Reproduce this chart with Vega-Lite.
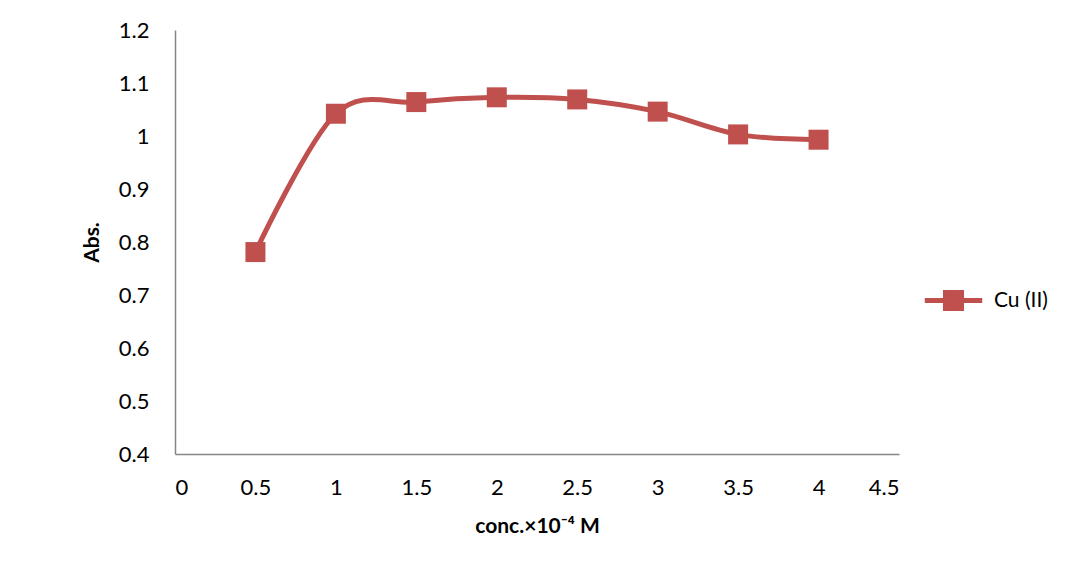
{
  "$schema": "https://vega.github.io/schema/vega-lite/v6.json",
  "autosize": "none",
  "width": 724,
  "height": 424,
  "padding": {"left": 175, "top": 30, "right": 166, "bottom": 127},
  "background": "white",
  "config": {
    "view": {"stroke": null},
    "font": "Lato",
    "axis": {
      "grid": false,
      "ticks": false,
      "domainColor": "#868686",
      "domainWidth": 1.5,
      "labelFont": "Lato",
      "labelFontSize": 22,
      "labelColor": "#000000",
      "titleFont": "Lato",
      "titleFontSize": 21,
      "titleFontWeight": "bold",
      "titleColor": "#000000"
    }
  },
  "data": {
    "values": [
      {"conc": 0.5, "abs": 0.781, "series": "Cu (II)"},
      {"conc": 1.0, "abs": 1.042, "series": "Cu (II)"},
      {"conc": 1.5, "abs": 1.064, "series": "Cu (II)"},
      {"conc": 2.0, "abs": 1.073, "series": "Cu (II)"},
      {"conc": 2.5, "abs": 1.069, "series": "Cu (II)"},
      {"conc": 3.0, "abs": 1.046, "series": "Cu (II)"},
      {"conc": 3.5, "abs": 1.003, "series": "Cu (II)"},
      {"conc": 4.0, "abs": 0.993, "series": "Cu (II)"}
    ]
  },
  "encoding": {
    "x": {
      "field": "conc",
      "type": "quantitative",
      "scale": {"domain": [0, 4.5], "nice": false, "zero": false},
      "axis": {
        "values": [0, 0.5, 1, 1.5, 2, 2.5, 3, 3.5, 4, 4.5],
        "format": ".1~f",
        "labelPadding": 23,
        "title": "conc.×10⁻⁴ M",
        "titlePadding": 17
      }
    },
    "y": {
      "field": "abs",
      "type": "quantitative",
      "scale": {"domain": [0.4, 1.2], "nice": false, "zero": false},
      "axis": {
        "values": [0.4, 0.5, 0.6, 0.7, 0.8, 0.9, 1.0, 1.1, 1.2],
        "format": ".1~f",
        "labelPadding": 26,
        "title": "Abs.",
        "titlePadding": 16
      }
    },
    "color": {
      "field": "series",
      "type": "nominal",
      "scale": {"range": ["#C0504D"]},
      "legend": {
        "title": null,
        "orient": "none",
        "legendX": 747,
        "legendY": 239,
        "labelFont": "Lato",
        "labelFontSize": 21,
        "labelColor": "#000000",
        "symbolType": "M-1,0L1,0M-0.28,-0.28L0.28,-0.28L0.28,0.28L-0.28,0.28Z",
        "symbolSize": 3300,
        "symbolStrokeWidth": 5,
        "symbolFillColor": "#C0504D",
        "symbolStrokeColor": "#C0504D",
        "symbolOpacity": 1,
        "labelOffset": 9
      }
    }
  },
  "layer": [
    {
      "mark": {"type": "line", "interpolate": "cardinal", "tension": 0, "strokeWidth": 5}
    },
    {
      "mark": {"type": "point", "shape": "square", "filled": true, "size": 400, "opacity": 1}
    }
  ]
}
